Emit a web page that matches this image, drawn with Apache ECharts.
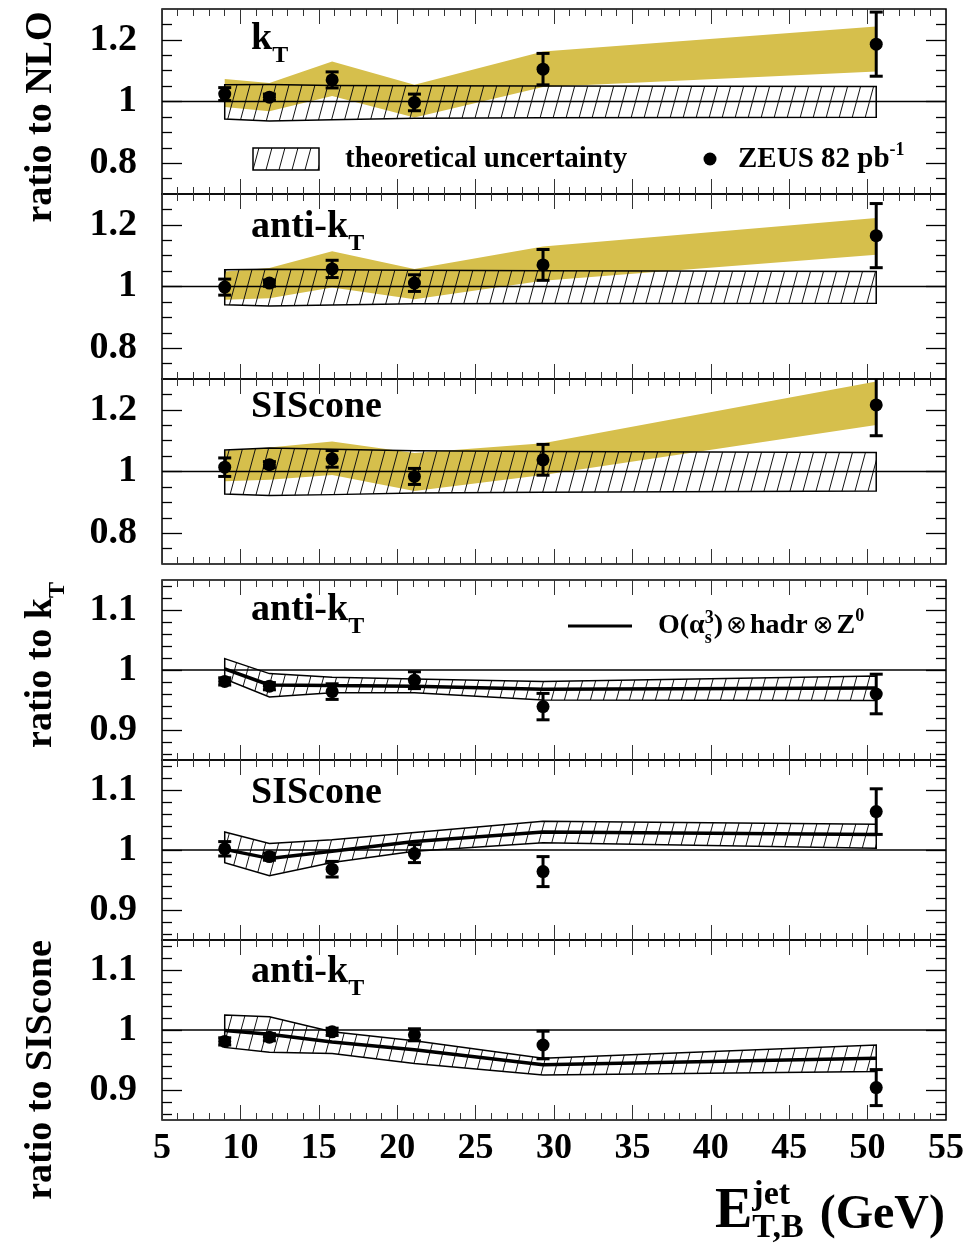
<!DOCTYPE html>
<html>
<head>
<meta charset="utf-8">
<script src="https://cdn.jsdelivr.net/npm/echarts@6/dist/echarts.min.js"></script>
<style>
  html, body { margin: 0; padding: 0; background: #fff; }
  #chart { width: 979px; height: 1245px; }
</style>
</head>
<body>
<div id="chart"></div>
<script>
// Mean jet transverse energy of each bin (GeV)
const etJet = [9.0, 11.85, 15.85, 21.1, 29.3, 50.55];
const xRange = [5, 55];

// Axis ranges and tick values
const nloRange = [0.7, 1.3];
const nloTicks = [0.8, 1, 1.2];
const nloMinorTicks = [0.75, 0.85, 0.9, 0.95, 1.05, 1.1, 1.15, 1.25];
const relRange = [0.85, 1.15];
const relTicks = [0.9, 1, 1.1];
const relMinorTicks = [0.86, 0.88, 0.92, 0.94, 0.96, 0.98, 1.02, 1.04, 1.06, 1.08, 1.12, 1.14];

// k_T / NLO
const ktNlo      = [1.024, 1.014, 1.070, 0.997, 1.105, 1.186];
const ktNloErr   = [0.021, 0.010, 0.026, 0.027, 0.051, 0.104];
const ktJesHi    = [1.073, 1.060, 1.130, 1.054, 1.162, 1.243];
const ktJesLo    = [0.982, 0.968, 1.018, 0.948, 1.047, 1.097];
const ktTheoHi   = [1.054, 1.055, 1.052, 1.051, 1.050, 1.049];
const ktTheoLo   = [0.943, 0.937, 0.941, 0.946, 0.947, 0.949];

// anti-k_T / NLO
const akNlo      = [0.998, 1.011, 1.057, 1.011, 1.070, 1.165];
const akNloErr   = [0.026, 0.010, 0.028, 0.027, 0.050, 0.104];
const akJesHi    = [1.049, 1.060, 1.114, 1.057, 1.130, 1.222];
const akJesLo    = [0.957, 0.962, 0.997, 0.959, 1.019, 1.103];
const akTheoHi   = [1.054, 1.056, 1.054, 1.053, 1.051, 1.049];
const akTheoLo   = [0.941, 0.937, 0.940, 0.944, 0.945, 0.946];

// SIScone / NLO
const siNlo      = [1.014, 1.022, 1.041, 0.984, 1.038, 1.216];
const siNloErr   = [0.030, 0.010, 0.027, 0.026, 0.050, 0.100];
const siJesHi    = [1.067, 1.078, 1.097, 1.060, 1.092, 1.292];
const siJesLo    = [0.968, 0.973, 0.989, 0.937, 0.989, 1.151];
const siTheoHi   = [1.070, 1.076, 1.072, 1.067, 1.065, 1.062];
const siTheoLo   = [0.927, 0.922, 0.925, 0.930, 0.933, 0.937];

// anti-k_T / k_T
const akKt       = [0.981, 0.973, 0.964, 0.983, 0.939, 0.960];
const akKtErr    = [0.006, 0.006, 0.013, 0.014, 0.022, 0.033];
const akKtPred   = [1.002, 0.975, 0.974, 0.973, 0.968, 0.970];
const akKtPredHi = [1.019, 0.994, 0.988, 0.985, 0.981, 0.990];
const akKtPredLo = [0.985, 0.955, 0.962, 0.962, 0.950, 0.949];

// SIScone / k_T
const siKt       = [1.002, 0.989, 0.968, 0.994, 0.964, 1.064];
const siKtErr    = [0.012, 0.006, 0.013, 0.015, 0.025, 0.038];
const siKtPred   = [1.001, 0.986, 0.998, 1.014, 1.030, 1.026];
const siKtPredHi = [1.030, 1.011, 1.017, 1.029, 1.048, 1.043];
const siKtPredLo = [0.979, 0.957, 0.979, 0.998, 1.012, 1.003];

// anti-k_T / SIScone
const akSi       = [0.981, 0.988, 0.997, 0.992, 0.975, 0.904];
const akSiErr    = [0.006, 0.006, 0.006, 0.010, 0.023, 0.030];
const akSiPred   = [0.999, 0.993, 0.980, 0.967, 0.942, 0.953];
const akSiPredHi = [1.025, 1.022, 0.997, 0.982, 0.953, 0.975];
const akSiPredLo = [0.971, 0.963, 0.961, 0.944, 0.925, 0.931];

const FONT = '"Liberation Serif", "Times New Roman", "DejaVu Serif", serif';
const SYM_FONT = 'normal 25px "DejaVu Sans", sans-serif';
const GOLD = '#d6bf4c';

// Diagonal hatch tile used for the theory bands
function makeHatch() {
  const w = 13, h = 48;
  const c = document.createElement('canvas');
  c.width = w; c.height = h;
  const g = c.getContext('2d');
  g.strokeStyle = '#111';
  g.lineWidth = 1;
  for (let k = -1; k <= 1; k++) {
    g.beginPath();
    g.moveTo(k * w, h);
    g.lineTo((k + 1) * w, 0);
    g.stroke();
  }
  return { image: c, repeat: 'repeat' };
}
const HATCH = makeHatch();

const panels = [
  { top: 9,   height: 185, range: nloRange, ticks: nloTicks, minor: nloMinorTicks,
    val: ktNlo, err: ktNloErr, jes: [ktJesLo, ktJesHi], theo: [ktTheoLo, ktTheoHi], pred: null },
  { top: 194, height: 185, range: nloRange, ticks: nloTicks, minor: nloMinorTicks,
    val: akNlo, err: akNloErr, jes: [akJesLo, akJesHi], theo: [akTheoLo, akTheoHi], pred: null },
  { top: 379, height: 185, range: nloRange, ticks: nloTicks, minor: nloMinorTicks,
    val: siNlo, err: siNloErr, jes: [siJesLo, siJesHi], theo: [siTheoLo, siTheoHi], pred: null },
  { top: 580, height: 180, range: relRange, ticks: relTicks, minor: relMinorTicks,
    val: akKt, err: akKtErr, jes: null, theo: [akKtPredLo, akKtPredHi], pred: akKtPred },
  { top: 760, height: 180, range: relRange, ticks: relTicks, minor: relMinorTicks,
    val: siKt, err: siKtErr, jes: null, theo: [siKtPredLo, siKtPredHi], pred: siKtPred },
  { top: 940, height: 180, range: relRange, ticks: relTicks, minor: relMinorTicks,
    val: akSi, err: akSiErr, jes: null, theo: [akSiPredLo, akSiPredHi], pred: akSiPred }
];

const grids = [], xAxes = [], yAxes = [], series = [];

function makeXAxis(i, pos, labels) {
  return {
    gridIndex: i, type: 'value', position: pos,
    min: xRange[0], max: xRange[1], interval: 5,
    axisLine: { show: false },
    splitLine: { show: false },
    axisTick: { show: true, inside: true, length: 15, lineStyle: { color: '#333', width: 1 } },
    minorTick: { show: true, splitNumber: 5, length: 7, lineStyle: { color: '#333', width: 1 } },
    axisLabel: labels
      ? { show: true, margin: 11, color: '#000', fontFamily: FONT, fontWeight: 'bold', fontSize: 36 }
      : { show: false }
  };
}

function makeYAxis(i, p, pos, vals, len, labels) {
  return {
    gridIndex: i, type: 'value', position: pos,
    min: p.range[0], max: p.range[1],
    axisLine: { show: false },
    splitLine: { show: false },
    axisTick: { show: true, inside: true, length: len, customValues: vals,
                lineStyle: { color: '#000', width: 1.3 } },
    axisLabel: labels
      ? { show: true, customValues: vals, margin: 25, color: '#000',
          fontFamily: FONT, fontWeight: 'bold', fontSize: 38 }
      : { show: false }
  };
}

function bandSeries(xi, yi, lo, hi, style, z) {
  return {
    type: 'custom', xAxisIndex: xi, yAxisIndex: yi, z: z, silent: true, clip: true,
    data: etJet.map((x, k) => [x, lo[k], hi[k]]),
    renderItem(params, api) {
      if (params.dataIndex !== 0) return null;
      const upper = etJet.map((x, k) => api.coord([x, hi[k]]));
      const lower = etJet.map((x, k) => api.coord([x, lo[k]])).reverse();
      return { type: 'polygon', shape: { points: upper.concat(lower) }, style: style };
    }
  };
}

function errorSeries(xi, yi, val, err) {
  return {
    type: 'custom', xAxisIndex: xi, yAxisIndex: yi, z: 6, silent: true, clip: true,
    data: etJet.map((x, k) => [x, val[k], err[k]]),
    renderItem(params, api) {
      const x = api.value(0), v = api.value(1), e = api.value(2);
      const a = api.coord([x, v + e]);
      const b = api.coord([x, v - e]);
      const s = { stroke: '#000', lineWidth: 3 };
      const cw = 6.5;
      return { type: 'group', children: [
        { type: 'line', shape: { x1: a[0], y1: a[1], x2: b[0], y2: b[1] }, style: s },
        { type: 'line', shape: { x1: a[0] - cw, y1: a[1], x2: a[0] + cw, y2: a[1] }, style: s },
        { type: 'line', shape: { x1: b[0] - cw, y1: b[1], x2: b[0] + cw, y2: b[1] }, style: s }
      ] };
    }
  };
}

panels.forEach((p, i) => {
  grids.push({ left: 162, width: 784, top: p.top, height: p.height, show: true,
               borderColor: '#000', borderWidth: 1.5, backgroundColor: 'transparent',
               outerBoundsMode: 'none', containLabel: false });
  xAxes.push(makeXAxis(i, 'bottom', i === panels.length - 1), makeXAxis(i, 'top', false));
  yAxes.push(makeYAxis(i, p, 'left', p.ticks, 20, true),
             makeYAxis(i, p, 'left', p.minor, 10, false),
             makeYAxis(i, p, 'right', p.ticks, 20, false),
             makeYAxis(i, p, 'right', p.minor, 10, false));
  const xi = 2 * i, yi = 4 * i;
  if (p.jes) series.push(bandSeries(xi, yi, p.jes[0], p.jes[1], { fill: GOLD }, 1));
  series.push(bandSeries(xi, yi, p.theo[0], p.theo[1],
                         { fill: HATCH, stroke: '#000', lineWidth: 1.5, lineJoin: 'miter' }, 2));
  series.push({
    type: 'line', xAxisIndex: xi, yAxisIndex: yi, z: 3, silent: true,
    data: xRange.map(x => [x, 1]), symbol: 'none',
    lineStyle: { color: '#000', width: 1.5 }
  });
  if (p.pred) {
    series.push({
      type: 'line', xAxisIndex: xi, yAxisIndex: yi, z: 4, silent: true,
      data: etJet.map((x, k) => [x, p.pred[k]]), symbol: 'none',
      lineStyle: { color: '#000', width: 3.5 }
    });
  }
  series.push(errorSeries(xi, yi, p.val, p.err));
  series.push({
    type: 'scatter', xAxisIndex: xi, yAxisIndex: yi, z: 7, silent: true,
    data: etJet.map((x, k) => [x, p.val[k]]),
    symbol: 'circle', symbolSize: 13, itemStyle: { color: '#000', opacity: 1 }
  });
});

// Text runs with sub/superscripts, laid out from measured glyph widths
const mctx = document.createElement('canvas').getContext('2d');
function fontOf(p) { return p.font || ('bold ' + p.size + 'px ' + FONT); }
function widthOf(p) { mctx.font = fontOf(p); return mctx.measureText(p.t).width; }

// parts: { t, size, dy (baseline shift), dx (gap before), stack (share x with next part) }
function textRun(parts, align) {
  let total = 0, pending = 0;
  parts.forEach(p => {
    const w = widthOf(p);
    total += p.dx || 0;
    if (p.stack) { pending = Math.max(pending, w); }
    else { total += Math.max(pending, w); pending = 0; }
  });
  let x = align === 'center' ? -total / 2 : 0;
  const out = [];
  pending = 0;
  parts.forEach(p => {
    const w = widthOf(p);
    x += p.dx || 0;
    const size = p.size || 18;
    out.push({
      type: 'text', x: x, y: (p.dy || 0) - 0.33 * size,
      style: { text: p.t, font: fontOf(p), fill: '#000',
               textAlign: 'left', textVerticalAlign: 'middle' }
    });
    if (p.stack) { pending = Math.max(pending, w); }
    else { x += Math.max(pending, w); pending = 0; }
  });
  return out;
}

function label(parts, x, baseline, opts) {
  opts = opts || {};
  return { type: 'group', x: x, y: baseline, rotation: opts.rotation || 0,
           silent: true, z: 20, children: textRun(parts, opts.align || 'left') };
}

const graphics = [
  // panel titles
  label([{ t: 'k', size: 38 }, { t: 'T', size: 24, dy: 12 }], 251, 52),
  label([{ t: 'anti-k', size: 38 }, { t: 'T', size: 24, dy: 12 }], 251, 240),
  label([{ t: 'SIScone', size: 38 }], 251, 420),
  label([{ t: 'anti-k', size: 38 }, { t: 'T', size: 24, dy: 12 }], 251, 623),
  label([{ t: 'SIScone', size: 38 }], 251, 806),
  label([{ t: 'anti-k', size: 38 }, { t: 'T', size: 24, dy: 12 }], 251, 985),

  // vertical axis titles
  label([{ t: 'ratio to NLO', size: 38 }], 54, 117, { rotation: Math.PI / 2, align: 'center' }),
  label([{ t: 'ratio to k', size: 38 }, { t: 'T', size: 24, dy: 12 }], 54, 665,
        { rotation: Math.PI / 2, align: 'center' }),
  label([{ t: 'ratio to SIScone', size: 38 }], 54, 1070, { rotation: Math.PI / 2, align: 'center' }),

  // horizontal axis title
  label([{ t: 'E', size: 56 },
         { t: 'jet', size: 34, dy: -25, stack: true },
         { t: 'T,B', size: 34, dy: 8 },
         { t: '(GeV)', size: 48, dx: 16 }], 715, 1231),

  // legend: theory band and data
  { type: 'rect', shape: { x: 253, y: 148, width: 66, height: 22 }, z: 20, silent: true,
    style: { fill: HATCH, stroke: '#000', lineWidth: 1.5 } },
  label([{ t: 'theoretical uncertainty', size: 29 }], 345, 169),
  { type: 'circle', shape: { cx: 710, cy: 159, r: 6.5 }, z: 20, silent: true, style: { fill: '#000' } },
  label([{ t: 'ZEUS 82 pb', size: 29 }, { t: '-1', size: 18, dy: -13 }], 738, 169),

  // legend: prediction line
  { type: 'line', shape: { x1: 568, y1: 626, x2: 632, y2: 626 }, z: 20, silent: true,
    style: { stroke: '#000', lineWidth: 3 } },
  label([{ t: 'O(\u03b1', size: 28 },
         { t: '3', size: 18, dy: -11, stack: true },
         { t: 's', size: 18, dy: 9 },
         { t: ')', size: 28 },
         { t: '\u2297', font: SYM_FONT, size: 25, dx: 3, dy: 0 },
         { t: 'hadr', size: 28, dx: 3 },
         { t: '\u2297', font: SYM_FONT, size: 25, dx: 5, dy: 0 },
         { t: 'Z', size: 28, dx: 3 },
         { t: '0', size: 18, dy: -13 }], 658, 635)
];

const chart = echarts.init(document.getElementById('chart'), null, { renderer: 'canvas' });
chart.setOption({
  backgroundColor: '#fff',
  animation: false,
  grid: grids,
  xAxis: xAxes,
  yAxis: yAxes,
  series: series,
  graphic: { elements: graphics }
});
</script>
</body>
</html>
